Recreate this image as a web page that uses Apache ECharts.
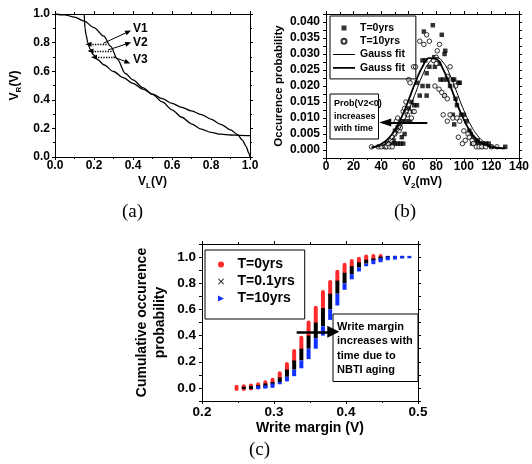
<!DOCTYPE html>
<html>
<head>
<meta charset="utf-8">
<script src="https://cdn.jsdelivr.net/npm/echarts@6/dist/echarts.min.js"></script>
<style>
  html, body { margin: 0; padding: 0; background: #fff; }
  #main { width: 532px; height: 464px; }
</style>
</head>
<body>
<div id="main"></div>
<script>
(function() {
  var FONT = 'Liberation Sans, Arial, sans-serif';

  // (a) butterfly curves, V_L vs V_R
  var vtcLeft = [[0,1.0],[0.05,0.994],[0.1,0.978],[0.15,0.950],[0.2,0.905],[0.25,0.845],[0.285,0.775],
    [0.32,0.685],[0.36,0.585],[0.4,0.54],[0.45,0.485],[0.5,0.438],[0.55,0.385],[0.6,0.33],[0.65,0.278],
    [0.7,0.232],[0.75,0.195],[0.8,0.172],[0.85,0.16],[0.9,0.154],[0.95,0.151],[1.0,0.149]];
  var vtcRight = [[0.15,1.0],[0.151,0.95],[0.154,0.90],[0.16,0.85],[0.168,0.80],[0.18,0.755],[0.197,0.715],
    [0.22,0.68],[0.25,0.645],[0.3,0.598],[0.35,0.555],[0.4,0.515],[0.45,0.475],[0.5,0.44],[0.55,0.408],
    [0.6,0.375],[0.65,0.347],[0.7,0.322],[0.75,0.297],[0.8,0.265],[0.85,0.228],[0.9,0.19],[0.935,0.158],
    [0.96,0.12],[0.98,0.075],[0.993,0.03],[1.0,0.0]];
  var vLabels = ['V1', 'V2', 'V3'];

  // (b) V2 distribution
  var probT0 = [[42,0.001],[44,0.002],[45,0.002],[46,0.002],[48,0.002],[50,0.002],[52,0.002],[54,0.002],[56,0.002],
    [49,0.003],[50,0.006],[52,0.007],[53,0.008],[55,0.004],[57,0.005],[55,0.009],[58,0.009],[61,0.009],
    [60,0.013],[63,0.012],[62,0.015],[64,0.014],[66,0.014],[68,0.017],[66,0.021],[70,0.020],[73,0.017],
    [74,0.020],[73,0.024],[70,0.028],[72,0.028],[71,0.037],[75,0.026],[77.5,0.039],[79,0.026],[78.5,0.029],
    [82,0.027],[84,0.036],[86,0.030],[86.5,0.031],[83,0.022],[85,0.022],[88,0.022],[90,0.020],[92,0.022],
    [93,0.022],[96,0.021],[97,0.021],[86,0.017],[94,0.016],[95,0.014],[98,0.011],[92,0.011],[100,0.011],
    [102,0.009],[93,0.008],[104,0.006],[105,0.005],[106,0.004],[108,0.003],[110,0.003],[106,0.002],
    [108,0.002],[110,0.002],[112,0.002],[114,0.002],[116,0.002],[118,0.002],[113,0.001],[120,0.001],[130,0.001]];
  var probT10 = [[33,0.001],[38,0.001],[40,0.001],[43,0.001],[44,0.001],[46,0.001],[48,0.001],[45,0.002],
    [47,0.003],[48,0.004],[50,0.005],[53,0.006],[54,0.007],[51,0.009],[52,0.010],[56,0.012],[57,0.013],
    [59,0.011],[58,0.015],[62,0.010],[64,0.012],[60,0.022],[61,0.021],[63.5,0.026],[65,0.026],[68,0.034],
    [73,0.036],[75,0.034],[71,0.033],[80.7,0.031],[82.3,0.033],[80,0.029],[78,0.028],[80,0.027],[79,0.020],
    [82,0.019],[84,0.018],[86,0.017],[88,0.016],[90,0.026],[88,0.023],[94,0.020],[85,0.011],[88,0.009],
    [90,0.011],[92,0.010],[95,0.010],[97,0.009],[96,0.004],[99,0.002],[100,0.006],[101,0.003],[103,0.005],
    [104,0.004],[106,0.003],[107,0.002],[109,0.001],[111,0.001],[113,0.001],[116,0.001],[120,0.001],[124,0.001]];
  var fitX = [33,35,40,45,50,55,60,65,70,75,80,85,90,95,100,105,110,115,120,125,130];
  var fitT0 = [0.0006,0.0008,0.0013,0.0024,0.0045,0.0078,0.0124,0.0179,0.0234,0.0274,0.0289,0.0274,
    0.0234,0.0179,0.0124,0.0078,0.0045,0.0024,0.0013,0.0008,0.0005];
  var fitT10 = [0.0008,0.0010,0.0019,0.0035,0.0063,0.0104,0.0157,0.0213,0.0260,0.0287,0.0284,0.0252,
    0.0202,0.0145,0.0095,0.0056,0.0031,0.0017,0.0009,0.0006,0.0005];

  // (c) write margin cdf: [low, high] of each column, null = no marks
  var wmX = [0.248,0.258,0.268,0.278,0.288,0.298,0.308,0.318,0.328,0.338,0.348,0.358,0.368,
    0.378,0.388,0.398,0.408,0.418,0.428,0.438,0.448,0.458,0.468,0.478,0.488];
  var wmT0 = [[0,0],[0,0.003],[0.005,0.01],[0.012,0.018],[0.025,0.035],[0.045,0.062],[0.08,0.112],
    [0.14,0.183],[0.21,0.283],[0.30,0.383],[0.40,0.50],[0.50,0.612],[0.61,0.733],[0.72,0.81],[0.82,0.888],
    [0.88,0.942],[0.93,0.97],[0.96,0.987],[0.98,0.995],[0.99,1.0],[1.0,1.0],null,null,null,null];
  var wmT01 = [null,[0,0],[0,0.005],[0.005,0.012],[0.01,0.025],[0.025,0.045],[0.045,0.08],[0.085,0.14],
    [0.14,0.21],[0.21,0.30],[0.30,0.40],[0.38,0.50],[0.47,0.61],[0.60,0.72],[0.72,0.82],[0.80,0.88],
    [0.87,0.93],[0.92,0.96],[0.95,0.98],[0.97,0.99],[0.985,0.995],[0.995,1.0],[1.0,1.0],[1.0,1.0],null];
  var wmT10 = [null,null,null,[0,0.004],[0.004,0.01],[0.01,0.025],[0.028,0.045],[0.05,0.085],[0.09,0.14],
    [0.15,0.21],[0.22,0.30],[0.30,0.38],[0.40,0.47],[0.52,0.60],[0.63,0.72],[0.75,0.80],[0.83,0.87],
    [0.89,0.92],[0.93,0.95],[0.955,0.97],[0.97,0.985],[0.985,0.995],[0.99,1.0],[1.0,1.0],[1.0,1.0]];

  function columns(arr) {
    var out = [];
    wmX.forEach(function(x, i) {
      if (arr[i]) out.push([x, arr[i][0], arr[i][1]]);
    });
    return out;
  }

  function zip(xs, ys) {
    return xs.map(function(x, i) { return [x, ys[i]]; });
  }

  function fixed(n) {
    return function(v) { return v.toFixed(n); };
  }

  function everyOther(step, n) {
    return function(v) {
      var k = Math.round(v / step);
      return k % 2 === 0 ? v.toFixed(n) : '';
    };
  }

  function axis(o) {
    var a = {
      type: 'value', gridIndex: o.grid, position: o.pos,
      min: o.min, max: o.max, interval: o.interval,
      axisLine: { show: true, onZero: false, lineStyle: { color: '#000', width: 1 } },
      axisTick: { show: true, inside: false, length: 3, lineStyle: { color: '#000', width: 1 } },
      minorTick: { show: !!o.minor, splitNumber: o.minor || 2, length: 2, lineStyle: { color: '#000', width: 1 } },
      splitLine: { show: false },
      minorSplitLine: { show: false },
      axisLabel: {
        show: !o.mirror, color: '#000', fontFamily: FONT, fontWeight: 'bold',
        fontSize: o.fs || 12, margin: o.margin || 4, formatter: o.fmt
      }
    };
    if (o.name) {
      a.name = o.name;
      a.nameLocation = 'middle';
      a.nameGap = o.gap;
      a.nameTextStyle = {
        color: '#000', fontFamily: FONT, fontWeight: 'bold', fontSize: o.nfs || 12,
        lineHeight: o.nlh || 16,
        rich: {
          n: { color: '#000', fontFamily: FONT, fontWeight: 'bold', fontSize: 12, lineHeight: 16 },
          s: { color: '#000', fontFamily: FONT, fontWeight: 'bold', fontSize: 8, lineHeight: 8, verticalAlign: 'bottom' }
        }
      };
    }
    return a;
  }

  function columnRender(width, cap) {
    return function(params, api) {
      var x = api.value(0);
      var p1 = api.coord([x, api.value(1)]);
      var p2 = api.coord([x, api.value(2)]);
      var y1 = p1[1], y2 = p2[1];
      if (Math.abs(y1 - y2) < 2) { y1 += 1.2; y2 -= 1.2; }
      return {
        type: 'line',
        shape: { x1: p1[0], y1: y1, x2: p2[0], y2: y2 },
        style: { stroke: api.visual('color'), lineWidth: width, lineCap: cap }
      };
    };
  }

  var dotted = { type: 'dotted', width: 1.3, color: '#000' };
  var solid = { type: 'solid', width: 1, color: '#000' };
  var curved = { type: 'solid', width: 1, color: '#000', curveness: -0.7 };
  var head = { symbol: 'triangle', symbolSize: [5, 6] };

  function ml(from, to, style) {
    return [
      { coord: from, lineStyle: style },
      { coord: to, symbol: head.symbol, symbolSize: head.symbolSize, lineStyle: style }
    ];
  }

  // legend icons; the empty sub-paths only fix the icon box so the stroke keeps its thickness
  var iconSquare = 'path://M0,0L10,0L10,10L0,10Z';
  var iconThin = 'path://M0,0L0,0ZM0,2L22,2L22,3L0,3ZM22,5L22,5Z';
  var iconThick = 'path://M0,0L0,0ZM0,1.6L22,1.6L22,3.4L0,3.4ZM22,5L22,5Z';
  var iconCross = 'path://M0,1L1,0L5,4L9,0L10,1L6,5L10,9L9,10L5,6L1,10L0,9L4,5Z';
  var iconTri = 'path://M0,0L10,5L0,10Z';

  var labelFont = 'bold 12px Liberation Sans';

  var chart = echarts.init(document.getElementById('main'), null, { renderer: 'canvas' });

  chart.setOption({
    animation: false,
    backgroundColor: '#fff',
    textStyle: { fontFamily: FONT },
    grid: [
      { left: 55, top: 14, width: 195, height: 143 },
      { left: 326, top: 14, width: 198, height: 144 },
      { left: 202, top: 244, width: 216, height: 157 }
    ],
    xAxis: [
      axis({ grid: 0, pos: 'bottom', min: 0, max: 1, interval: 0.2, minor: 2, fmt: fixed(1), margin: 3,
        name: '{n|V}{s|L}{n|(V)}', gap: 17 }),
      axis({ grid: 0, pos: 'top', min: 0, max: 1, interval: 0.2, minor: 2, mirror: true }),
      axis({ grid: 1, pos: 'bottom', min: 0, max: 140, interval: 20, minor: 2, fmt: fixed(0), margin: 3,
        name: '{n|V}{s|2}{n|(mV)}', gap: 16 }),
      axis({ grid: 1, pos: 'top', min: 0, max: 140, interval: 20, minor: 2, mirror: true }),
      axis({ grid: 2, pos: 'bottom', min: 0.2, max: 0.5, interval: 0.1, minor: 2, fmt: fixed(1), fs: 13.5,
        margin: 4, name: 'Write margin (V)', gap: 19, nfs: 14 }),
      axis({ grid: 2, pos: 'top', min: 0.2, max: 0.5, interval: 0.1, minor: 2, mirror: true })
    ],
    yAxis: [
      axis({ grid: 0, pos: 'left', min: 0, max: 1, interval: 0.2, minor: 2, fmt: fixed(1), margin: 5,
        name: '{n|V}{s|R}{n|(V)}', gap: 32 }),
      axis({ grid: 0, pos: 'right', min: 0, max: 1, interval: 0.2, minor: 2, mirror: true }),
      axis({ grid: 1, pos: 'left', min: -0.0025, max: 0.0425, interval: 0.0025, fmt: everyOther(0.0025, 3),
        margin: 6, name: 'Occurence probability', gap: 33, nfs: 11.5, nlh: 14 }),
      axis({ grid: 1, pos: 'right', min: -0.0025, max: 0.0425, interval: 0.0025, mirror: true }),
      axis({ grid: 2, pos: 'left', min: -0.1, max: 1.1, interval: 0.1, fmt: everyOther(0.1, 1), fs: 13.5,
        margin: 6, name: 'Cumulative occurence\nprobability', gap: 33, nfs: 14, nlh: 18 }),
      axis({ grid: 2, pos: 'right', min: -0.1, max: 1.1, interval: 0.1, mirror: true })
    ],
    legend: [
      {
        orient: 'vertical', left: 330, top: 16, padding: [6, 8, 5, 3],
        borderColor: '#000', borderWidth: 1, borderRadius: 0,
        itemWidth: 22, itemHeight: 5, itemGap: 1.3, selectedMode: false,
        textStyle: { color: '#000', fontFamily: FONT, fontWeight: 'bold', fontSize: 10.5, lineHeight: 12 },
        data: [
          { name: 'T=0yrs', icon: iconSquare },
          { name: 'T=10yrs', icon: 'circle' },
          { name: 'Gauss fit', icon: iconThin },
          { name: 'Gauss fit ', icon: iconThick }
        ]
      },
      {
        orient: 'vertical', left: 205, top: 250, padding: [7, 10, 13, 13],
        borderColor: '#000', borderWidth: 1, borderRadius: 0,
        itemWidth: 23, itemHeight: 6, itemGap: 2, selectedMode: false,
        textStyle: { color: '#000', fontFamily: FONT, fontWeight: 'bold', fontSize: 14, lineHeight: 15 },
        data: [
          { name: 'T=0yrs ', icon: 'circle' },
          { name: 'T=0.1yrs', icon: iconCross },
          { name: 'T=10yrs ', icon: iconTri }
        ]
      }
    ],
    graphic: [
      { type: 'text', left: 122, top: 203, style: { text: '(a)', font: '19px Liberation Serif', fill: '#000' } },
      { type: 'text', left: 394, top: 203, style: { text: '(b)', font: '19px Liberation Serif', fill: '#000' } },
      { type: 'text', left: 249, top: 441, style: { text: '(c)', font: '19px Liberation Serif', fill: '#000' } },
      { type: 'text', left: 133, top: 23, style: { text: vLabels[0], font: labelFont, fill: '#000' } },
      { type: 'text', left: 133, top: 37, style: { text: vLabels[1], font: labelFont, fill: '#000' } },
      { type: 'text', left: 133, top: 54, style: { text: vLabels[2], font: labelFont, fill: '#000' } },
      {
        type: 'group', left: 329.5, top: 93.5,
        children: [
          { type: 'rect', shape: { x: 0, y: 0, width: 48.5, height: 45 },
            style: { fill: '#fff', stroke: '#000', lineWidth: 1 } },
          { type: 'text', x: 4, y: 3,
            style: { text: 'Prob(V2<0)\nincreases\nwith time', font: 'bold 9px Liberation Sans',
              lineHeight: 12.8, fill: '#000' } }
        ]
      },
      {
        type: 'group', left: 332.5, top: 313.5,
        children: [
          { type: 'rect', shape: { x: 0, y: 0, width: 85, height: 67.5 },
            style: { fill: '#fff', stroke: '#000', lineWidth: 1 } },
          { type: 'text', x: 4, y: 6,
            style: { text: 'Write margin\nincreases with\ntime due to\nNBTI aging', font: 'bold 11px Liberation Sans',
              lineHeight: 14.2, fill: '#000' } }
        ]
      }
    ],
    series: [
      {
        name: 'vtc1', type: 'line', xAxisIndex: 0, yAxisIndex: 0, data: vtcLeft,
        smooth: 0.3, smoothMonotone: 'x', showSymbol: false, symbol: 'none',
        lineStyle: { color: '#000', width: 1.3 },
        markLine: {
          silent: true, symbol: ['none', 'none'], label: { show: false },
          data: [
            ml([0.265, 0.788], [0.172, 0.788], dotted),
            ml([0.290, 0.741], [0.182, 0.741], dotted),
            ml([0.308, 0.697], [0.200, 0.697], dotted),
            ml([0.248, 0.795], [0.376, 0.876], solid),
            ml([0.272, 0.748], [0.376, 0.795], solid),
            ml([0.300, 0.700], [0.372, 0.662], curved)
          ]
        }
      },
      {
        name: 'vtc2', type: 'line', xAxisIndex: 0, yAxisIndex: 0, data: vtcRight,
        smooth: 0.3, smoothMonotone: 'x', showSymbol: false, symbol: 'none',
        lineStyle: { color: '#000', width: 1.3 }
      },
      {
        name: 'T=0yrs', type: 'scatter', xAxisIndex: 2, yAxisIndex: 2, data: probT0,
        symbol: 'rect', symbolSize: 4.5, itemStyle: { color: '#000' },
        markLine: {
          silent: true, symbol: ['none', 'triangle'], symbolSize: [8, 12], label: { show: false },
          lineStyle: { color: '#000', width: 2, type: 'solid' },
          data: [[{ coord: [73.5, 0.0086] }, { coord: [43, 0.0086] }]]
        }
      },
      {
        name: 'T=10yrs', type: 'scatter', xAxisIndex: 2, yAxisIndex: 2, data: probT10,
        symbol: 'circle', symbolSize: 4.5, itemStyle: { color: '#fff', borderColor: '#000', borderWidth: 1 }
      },
      {
        name: 'Gauss fit', type: 'line', xAxisIndex: 2, yAxisIndex: 2, data: zip(fitX, fitT0),
        smooth: true, showSymbol: false, symbol: 'none', lineStyle: { color: '#000', width: 1 },
        itemStyle: { color: '#000' }
      },
      {
        name: 'Gauss fit ', type: 'line', xAxisIndex: 2, yAxisIndex: 2, data: zip(fitX, fitT10),
        smooth: true, showSymbol: false, symbol: 'none', lineStyle: { color: '#000', width: 1.8 },
        itemStyle: { color: '#000' }
      },
      {
        name: 'T=0yrs ', type: 'custom', xAxisIndex: 4, yAxisIndex: 4, data: columns(wmT0),
        renderItem: columnRender(4, 'round'), itemStyle: { color: '#ff2a2a' }
      },
      {
        name: 'T=0.1yrs', type: 'custom', xAxisIndex: 4, yAxisIndex: 4, data: columns(wmT01),
        renderItem: columnRender(4, 'butt'), itemStyle: { color: '#000' }
      },
      {
        name: 'T=10yrs ', type: 'custom', xAxisIndex: 4, yAxisIndex: 4, data: columns(wmT10),
        renderItem: columnRender(4, 'butt'), itemStyle: { color: '#1030ff' }
      },
      {
        name: 'wm arrow', type: 'line', xAxisIndex: 4, yAxisIndex: 4, data: [],
        markLine: {
          silent: true, symbol: ['none', 'triangle'], symbolSize: [12, 12], label: { show: false },
          lineStyle: { color: '#000', width: 2.5, type: 'solid' },
          data: [[{ coord: [0.3315, 0.429] }, { coord: [0.3824, 0.429] }]]
        }
      }
    ]
  });
})();
</script>
</body>
</html>
